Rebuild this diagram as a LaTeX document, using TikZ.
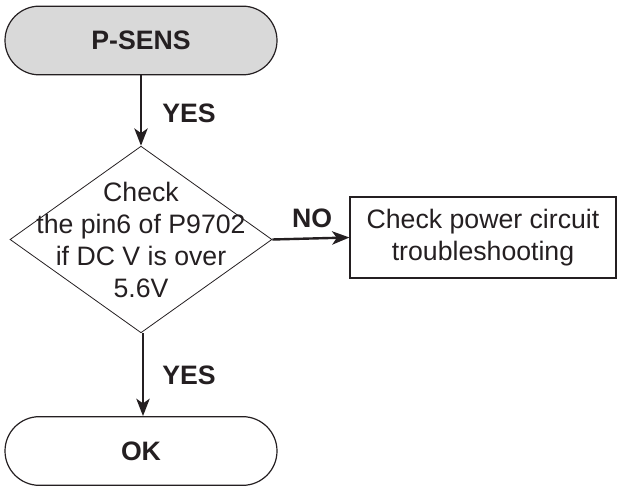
\documentclass[tikz,border=0pt]{standalone}
\usepackage{fontspec}
\setmainfont{Liberation Sans}
\usetikzlibrary{shapes.misc,shapes.geometric,arrows.meta}
\definecolor{termgray}{rgb}{0.85,0.85,0.85}
\definecolor{ink}{rgb}{0.14,0.12,0.13}

\begin{document}
\begin{tikzpicture}[x=0.75pt,y=-0.75pt,color=ink,
  term/.style={draw,rounded rectangle,line width=0.9pt,minimum width=204pt,minimum height=51.5pt,inner sep=0pt,font=\fontsize{20}{24}\selectfont\bfseries},
  decision/.style={draw,diamond,line width=0.6pt,minimum width=196.5pt,minimum height=140pt,inner sep=0pt,aspect=1.4},
  stepbox/.style={draw,rectangle,line width=0.8pt,minimum width=199.5pt,minimum height=60.75pt,inner sep=0pt,align=center,font=\fontsize{20}{24}\selectfont},
  flow/.style={line width=1.8pt,-{Stealth[length=13pt,width=10pt,inset=3.5pt]}},
  lab/.style={font=\fontsize{20}{24}\selectfont\bfseries}]
\useasboundingbox (0,0) rectangle (618,488);
\coordinate (Ps) at (141,40.5);
\coordinate (Ch) at (141,239.5);
\coordinate (Pw) at (483,237.5);
\coordinate (Ok) at (141,451);

\node[term,fill=termgray] (psens) at (Ps) {P-SENS};
\node[decision] (chk) at (Ch) {};
\node[align=center,font=\fontsize{20}{24}\selectfont] (chktext) at (Ch) {Check\\the pin6 of P9702\\if DC V is over\\5.6V};
\node[stepbox] (power) at (Pw) {Check power circuit\\troubleshooting};
\node[term] (ok) at (Ok) {OK};

\draw[flow] (psens.south) -- (chk.north);
\draw[flow] (chk.east) -- (power.west);
\draw[flow] ([xshift=1.5pt]chk.south) -- ([xshift=1.5pt]ok.north);

\node[lab] (yes1) at (189,113) {YES};
\node[lab] (no) at (312,218) {NO};
\node[lab] (yes2) at (189,375) {YES};
\end{tikzpicture}
\end{document}
